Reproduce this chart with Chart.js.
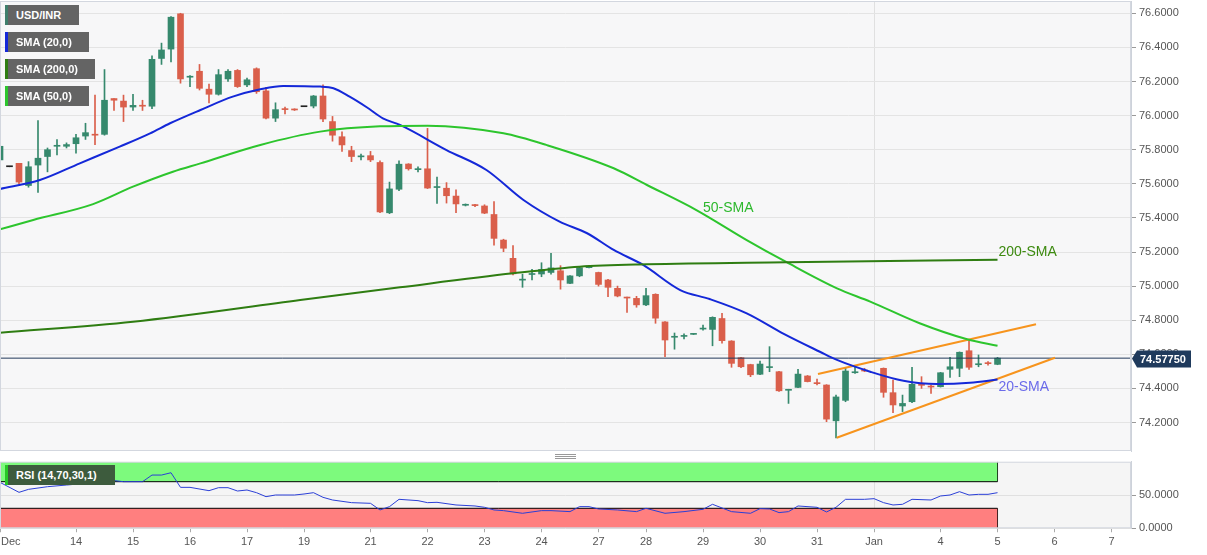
<!DOCTYPE html>
<html lang="en">
<head>
<meta charset="UTF-8">
<title>USD/INR 4H with SMA and RSI</title>
<script src="https://cdn.jsdelivr.net/npm/chart.js@4"></script>
<style>
  body { margin: 0; background: #fff; font-family: Arial, "Liberation Sans", sans-serif; }
  #wrap { position: relative; width: 1207px; height: 555px; overflow: hidden; }
  canvas { position: absolute; left: 0; }
  #mainChart { top: 0; }
  #rsiChart { top: 455px; }
  .tag { position: absolute; left: 5px; height: 20px; line-height: 20px; box-sizing: border-box;
         background: #646464; color: #fff; font-size: 11px; font-weight: bold;
         padding-left: 8px; border-left: 3px solid #646464; white-space: nowrap; }
  .grip { position: absolute; left: 555px; top: 454px; width: 21px; height: 1px; padding: 1px 0;
          border-top: 1px solid #999; border-bottom: 1px solid #999; background: #999 content-box; }
  #decLabel { position: absolute; left: 1px; top: 535px; font-size: 11px; color: #555; }
</style>
</head>
<body>
<div id="wrap">
  <canvas id="mainChart" width="1207" height="452"></canvas>
  <canvas id="rsiChart" width="1207" height="100"></canvas>

  <div class="tag" style="top:5px; width:74px; border-left-color:#3f7f6c;">USD/INR</div>
  <div class="tag" style="top:32px; width:84px; border-left-color:#1428d8;">SMA (20,0)</div>
  <div class="tag" style="top:59px; width:90px; border-left-color:#2f7d12;">SMA (200,0)</div>
  <div class="tag" style="top:86px; width:84px; border-left-color:#2dc52d;">SMA (50,0)</div>
  <div class="tag" style="top:465px; width:110px; background:#3d5b3d; border-left-color:#27c727;">RSI (14,70,30,1)</div>
  <div class="grip"></div>
  <div id="decLabel">Dec</div>
</div>

<script>
  // 4-hour candles, index 0 = first candle on the left (null = no candle)
  const openP = [75.74,75.70,75.72,75.59,75.71,75.76,75.82,75.82,75.835,75.88,
    75.89,75.89,76.10,76.085,76.05,76.06,76.055,76.335,76.39,76.597,
    76.225,76.26,76.155,76.125,76.215,76.265,76.18,76.275,76.145,75.985,
    76.04,76.037,76.052,76.056,76.115,75.965,75.876,75.795,75.758,75.765,
    75.725,75.43,75.568,75.716,75.683,75.688,75.578,75.574,75.528,75.474,
    75.478,75.47,75.42,75.27,75.163,75.035,75.068,75.071,75.08,75.09,
    75.016,75.06,75.108,75.08,75.036,74.987,74.934,74.928,74.89,74.952,
    74.79,74.70,74.705,74.717,74.748,74.746,74.81,74.678,74.58,74.54,
    74.483,74.522,74.498,74.389,74.406,74.473,74.432,74.42,74.21,74.33,
    74.492,74.506,null,74.518,74.375,74.297,74.322,74.422,74.412,74.41,
    74.512,74.518,74.621,74.539,74.549,74.541];
  const highP = [75.84,75.70,75.72,75.73,75.97,75.81,75.86,75.84,75.89,75.955,
    76.12,76.27,76.10,76.12,76.125,76.09,76.35,76.425,76.58,76.60,
    76.235,76.30,76.185,76.27,76.27,76.27,76.22,76.28,76.165,76.075,
    76.05,76.04,76.052,76.118,76.18,75.995,75.905,75.82,75.775,75.79,
    75.735,75.61,75.735,75.718,75.70,75.925,75.64,75.607,75.564,75.482,
    75.48,75.477,75.495,75.275,75.237,75.07,75.098,75.137,75.192,75.12,
    75.062,75.112,75.12,75.082,75.04,75.0,74.936,74.94,74.987,74.955,
    74.792,74.725,74.72,74.722,74.772,74.82,74.84,74.68,74.582,74.542,
    74.561,74.645,74.50,74.395,74.512,74.476,74.455,74.422,74.361,74.518,
    74.533,74.518,null,74.52,74.449,74.361,74.524,74.469,74.42,74.494,
    74.582,74.614,74.684,74.596,74.557,74.582];
  const lowP = [75.72,75.70,75.60,75.58,75.55,75.67,75.77,75.81,75.78,75.86,
    75.83,75.885,76.03,75.965,76.03,76.03,76.04,76.30,76.315,76.19,
    76.17,76.15,76.075,76.12,76.20,76.165,76.17,76.13,75.98,75.965,
    76.01,76.03,76.052,76.045,75.965,75.85,75.79,75.73,75.74,75.73,
    75.43,75.425,75.56,75.68,75.67,75.572,75.485,75.487,75.43,75.47,
    75.466,75.425,75.24,75.202,75.065,74.993,75.036,75.055,75.07,74.982,
    75.014,75.055,75.106,75.0,74.938,74.937,74.846,74.876,74.885,74.782,
    74.586,74.63,74.69,74.716,74.742,74.65,74.665,74.524,74.522,74.469,
    74.48,74.498,74.383,74.312,74.404,74.438,74.42,74.205,74.11,74.322,
    74.488,74.498,null,74.348,74.258,74.264,74.316,74.40,74.37,74.408,
    74.465,74.469,74.512,74.527,74.537,74.539];
  const closeP = [75.82,75.70,75.61,75.70,75.75,75.80,75.825,75.83,75.87,75.90,
    75.885,76.09,76.09,76.05,76.06,76.055,76.33,76.385,76.577,76.215,
    76.23,76.16,76.125,76.24,76.26,76.17,76.21,76.14,75.985,76.035,
    76.035,76.033,76.052,76.115,75.98,75.885,75.828,75.76,75.763,75.74,
    75.435,75.57,75.715,75.688,75.687,75.575,75.582,75.53,75.482,75.478,
    75.472,75.428,75.28,75.222,75.072,75.038,75.072,75.098,75.107,75.036,
    75.06,75.108,75.118,75.01,74.993,74.942,74.93,74.89,74.944,74.812,
    74.684,74.705,74.709,74.721,74.752,74.817,74.68,74.547,74.527,74.48,
    74.543,74.526,74.386,74.393,74.484,74.44,74.428,74.22,74.35,74.502,
    74.496,74.502,null,74.377,74.303,74.312,74.424,74.418,74.408,74.492,
    74.527,74.612,74.524,74.543,74.545,74.5775];

  // moving averages (candle index, value)
  const sma20Idx = [0,4.2,8.4,12.6,15.8,17.9,21.1,24.5,27.4,29.8,33.7,35.1,36.8,38.6,40.3,42.1,47,51.2,55.1,58.9,61.8,64.6,67.7,71.6,74.7,78.6,82.5,86.3,88.1,91.6,95.1,98.6,102.1,105];
  const sma20Val = [75.570,75.622,75.72,75.818,75.896,75.955,76.033,76.111,76.154,76.174,76.17,76.16,76.111,76.049,75.984,75.945,75.798,75.681,75.505,75.378,75.31,75.212,75.124,74.977,74.924,74.84,74.72,74.615,74.567,74.498,74.445,74.426,74.433,74.452];
  const sma50Idx = [0,3.5,9.8,14,18.2,21.1,27.4,33.7,40,45,53,57.5,64.6,68.1,73.3,78.6,82.8,88.1,91.6,96.8,101.8,105];
  const sma50Val = [75.333,75.388,75.481,75.583,75.671,75.72,75.828,75.906,75.937,75.941,75.896,75.828,75.691,75.593,75.446,75.27,75.14,74.987,74.909,74.782,74.688,74.65];
  const sma200Idx = [0,14,31.6,42.1,54,61,68.1,82.8,105];
  const sma200Val = [74.727,74.791,74.918,74.993,75.075,75.114,75.128,75.14,75.155];

  // rising wedge lines
  const upperIdx = [86.1, 109.05];
  const upperVal = [74.484, 74.776];
  const lowerIdx = [88.07, 111.05];
  const lowerVal = [74.111, 74.58];

  const rsiIdx = [0,2,3,5,7,9,10,11,13,15,16,17,18,19,20,22,23,24,25,26,27,28,29,31,32,33,34,35,37,39,40,41,42,44,45,46,48,50,51,52,53,55,57,58,60,61,62,63,65,67,68,70,72,74,75,77,79,80,81,82,83,84,86,87,88,89,91,92,93,94,95,96,98,99,100,101,102,103,104,105];
  const rsiVal = [69,54,58.5,62.5,65,67.5,66.5,73.5,70,70,80,80,83.5,61.5,61.5,56.5,61,61,56,57.5,53.5,47.5,50,50,51.5,53.5,46.5,42.5,38.5,37.5,27.5,32.5,43.5,41.5,38.5,39,35,33.5,31.5,27.5,26.5,22.5,26.5,26.5,25,32.5,32.5,29,27.5,25,30,22.5,25,28.5,36,25,22.5,29.5,29,23.5,25,33.5,31.5,24.5,31.5,43.5,43.5,44.5,38.5,35,36,43.5,42.5,48.5,50,55,50,51,51,53.5];
  const rsiLevels = [30, 70];

  const priceTicks = [74.2, 74.4, 74.6, 74.8, 75.0, 75.2, 75.4, 75.6, 75.8, 76.0, 76.2, 76.4, 76.6];
  const rsiTicks = [0, 50];
  const xTickIdx = [0, 8, 14, 20, 26, 32, 39, 45, 51, 57, 63, 68, 74, 80, 86, 92, 99, 105, 111, 117];
  const xTickText = ['', '14', '15', '16', '17', '19', '21', '22', '23', '24', '27', '28', '29', '30', '31', 'Jan', '4', '5', '6', '7'];

  const smaLabelText = ['50-SMA', '200-SMA', '20-SMA'];
  const smaLabelIdx = [74, 105.1, 105.1];
  const smaLabelVal = [75.458, 75.2, 74.409];

  const lastPrice = 74.5775;

  const X_MIN = 0, X_MAX = 119.05;
  const Y_MIN = 74.033, Y_MAX = 76.672;
  const UP = '#36896d', DOWN = '#da5f4b', FLAT = '#222';
  const FONT = 'Arial, "Liberation Sans", sans-serif';

  Chart.defaults.font.family = FONT;
  Chart.defaults.font.size = 11;
  Chart.defaults.color = '#555';

  const pts = (xs, ys) => xs.map((x, i) => ({ x, y: ys[i] }));
  const lastIdx = closeP.length - 1;

  const wickData = [], bodyData = [], candleColors = [];
  closeP.forEach((c, i) => {
    if (c === null) return;
    wickData.push({ x: i, y: [lowP[i], highP[i]] });
    bodyData.push({ x: i, y: [openP[i], c] });
    candleColors.push(c > openP[i] ? UP : c < openP[i] ? DOWN : FLAT);
  });

  const panelFrame = {
    id: 'panelFrame',
    beforeDraw(chart, args, opts) {
      const { ctx, chartArea: a } = chart;
      ctx.save();
      ctx.fillStyle = opts.fill;
      ctx.fillRect(a.left, a.top, a.right - a.left, a.bottom - a.top);
      ctx.restore();
    },
    afterDraw(chart, args, opts) {
      const { ctx, chartArea: a } = chart;
      ctx.save();
      ctx.strokeStyle = opts.border;
      ctx.lineWidth = 1;
      ctx.strokeRect(a.left + 0.5, a.top + 0.5, a.right - a.left - 1, a.bottom - a.top - 1);
      ctx.restore();
    }
  };

  const smaTags = {
    id: 'smaTags',
    afterDatasetsDraw(chart, args, opts) {
      const { ctx, scales: { x, y } } = chart;
      ctx.save();
      ctx.font = '14px ' + FONT;
      ctx.textBaseline = 'middle';
      smaLabelText.forEach((t, i) => {
        ctx.fillStyle = opts.colors[i];
        ctx.fillText(t, x.getPixelForValue(smaLabelIdx[i]), y.getPixelForValue(smaLabelVal[i]));
      });
      ctx.restore();
    }
  };

  const priceTag = {
    id: 'priceTag',
    afterDraw(chart) {
      const { ctx } = chart;
      const y = Math.round(chart.scales.y.getPixelForValue(lastPrice)) + 0.5;
      const x0 = chart.chartArea.right + 1;
      ctx.save();
      ctx.fillStyle = '#1f3a5c';
      ctx.beginPath();
      ctx.moveTo(x0, y);
      ctx.lineTo(x0 + 5, y - 8);
      ctx.lineTo(x0 + 59, y - 8);
      ctx.lineTo(x0 + 59, y + 9);
      ctx.lineTo(x0 + 5, y + 9);
      ctx.closePath();
      ctx.fill();
      ctx.fillStyle = '#fff';
      ctx.font = 'bold 11px ' + FONT;
      ctx.textBaseline = 'middle';
      ctx.fillText(lastPrice.toFixed(5), x0 + 8, y + 1);
      ctx.restore();
    }
  };

  const xAxisBase = {
    type: 'linear', min: X_MIN, max: X_MAX, offset: false,
    afterBuildTicks: s => { s.ticks = xTickIdx.map(v => ({ value: v })); }
  };

  new Chart(document.getElementById('mainChart'), {
    type: 'bar',
    data: {
      datasets: [
        { type: 'line', data: [{ x: X_MIN, y: lastPrice }, { x: X_MAX, y: lastPrice }],
          borderColor: '#22395a', borderWidth: 1, pointRadius: 0, order: 1 },
        { type: 'line', data: pts(sma200Idx, sma200Val), borderColor: '#2f7d12', borderWidth: 2,
          pointRadius: 0, cubicInterpolationMode: 'monotone', order: 0 },
        { type: 'line', data: pts(sma50Idx, sma50Val), borderColor: '#2dc52d', borderWidth: 2,
          pointRadius: 0, cubicInterpolationMode: 'monotone', order: 0 },
        { type: 'line', data: pts(sma20Idx, sma20Val), borderColor: '#1428d8', borderWidth: 2,
          pointRadius: 0, cubicInterpolationMode: 'monotone', order: 0 },
        { type: 'line', data: pts(upperIdx, upperVal), borderColor: '#f7941d', borderWidth: 2,
          pointRadius: 0, order: 0 },
        { type: 'line', data: pts(lowerIdx, lowerVal), borderColor: '#f7941d', borderWidth: 2,
          pointRadius: 0, order: 0 },
        { data: wickData, backgroundColor: candleColors, barThickness: 1, grouped: false, order: 3 },
        { data: bodyData, backgroundColor: candleColors, barThickness: 6, minBarLength: 1,
          grouped: false, order: 2 }
      ]
    },
    options: {
      responsive: false,
      animation: false,
      layout: { padding: { top: 1, bottom: 1, left: 0, right: 0 } },
      plugins: {
        legend: { display: false },
        tooltip: { enabled: false },
        panelFrame: { fill: '#f7f7f8', border: '#d3d7df' },
        smaTags: { colors: ['#2db82d', '#3d8a10', '#6b6bea'] }
      },
      scales: {
        x: Object.assign({}, xAxisBase, {
          ticks: { display: false },
          grid: { offset: false, drawTicks: false,
                  color: c => (c.tick && c.tick.value === 92) ? '#e0e0e0' : 'rgba(0,0,0,0)' },
          border: { display: false },
          afterFit: s => { s.height = 0; s.paddingLeft = 0; s.paddingRight = 0; }
        }),
        y: {
          position: 'right', min: Y_MIN, max: Y_MAX,
          afterBuildTicks: s => { s.ticks = priceTicks.map(v => ({ value: v })); },
          ticks: { callback: v => Number(v).toFixed(4), padding: 3, color: '#555' },
          grid: { color: '#e4e4e4', tickColor: '#999', tickLength: 5 },
          border: { color: '#cdd2da' },
          afterFit: s => { s.width = 76; s.paddingTop = 0; s.paddingBottom = 0; }
        }
      }
    },
    plugins: [panelFrame, smaTags, priceTag]
  });

  new Chart(document.getElementById('rsiChart'), {
    type: 'line',
    data: {
      datasets: [
        { data: pts(rsiIdx, rsiVal), borderColor: '#2b3fd6', borderWidth: 1, pointRadius: 0,
          tension: 0, order: 0 },
        { data: [{ x: 0, y: rsiLevels[1] }, { x: lastIdx, y: rsiLevels[1] }], borderColor: '#000',
          borderWidth: 1, pointRadius: 0, fill: { value: 100 }, backgroundColor: '#7dfa7d', order: 1 },
        { data: [{ x: 0, y: rsiLevels[0] }, { x: lastIdx, y: rsiLevels[0] }], borderColor: '#000',
          borderWidth: 1, pointRadius: 0, fill: { value: 0 }, backgroundColor: '#ff7f7f', order: 1 },
        { data: [{ x: lastIdx, y: rsiLevels[1] }, { x: lastIdx, y: 100 }], borderColor: '#000',
          borderWidth: 1, pointRadius: 0, order: 1 },
        { data: [{ x: lastIdx, y: 0 }, { x: lastIdx, y: rsiLevels[0] }], borderColor: '#000',
          borderWidth: 1, pointRadius: 0, order: 1 }
      ]
    },
    options: {
      responsive: false,
      animation: false,
      layout: { padding: { top: 6.75, bottom: 0, left: 0, right: 0 } },
      plugins: {
        legend: { display: false },
        tooltip: { enabled: false },
        panelFrame: { fill: '#f5f5f5', border: '#d3d7df' }
      },
      scales: {
        x: Object.assign({}, xAxisBase, {
          ticks: { callback: (v, i) => xTickText[i], autoSkip: false, maxRotation: 0, padding: 3, color: '#555' },
          grid: { offset: false, tickLength: 4, tickColor: '#aaa',
                  color: c => (c.tick && c.tick.value === 92) ? '#e0e0e0' : 'rgba(0,0,0,0)' },
          border: { display: false },
          afterFit: s => { s.height = 26.75; s.paddingLeft = 0; s.paddingRight = 0; }
        }),
        y: {
          position: 'right', min: 0, max: 100,
          afterBuildTicks: s => { s.ticks = rsiTicks.map(v => ({ value: v })); },
          ticks: { callback: v => Number(v).toFixed(4), padding: 3, color: '#555' },
          grid: { color: '#e0e0e0', tickColor: '#999', tickLength: 5 },
          border: { color: '#cdd2da' },
          afterFit: s => { s.width = 76; s.paddingTop = 0; s.paddingBottom = 0; }
        }
      }
    },
    plugins: [panelFrame]
  });
</script>
</body>
</html>
